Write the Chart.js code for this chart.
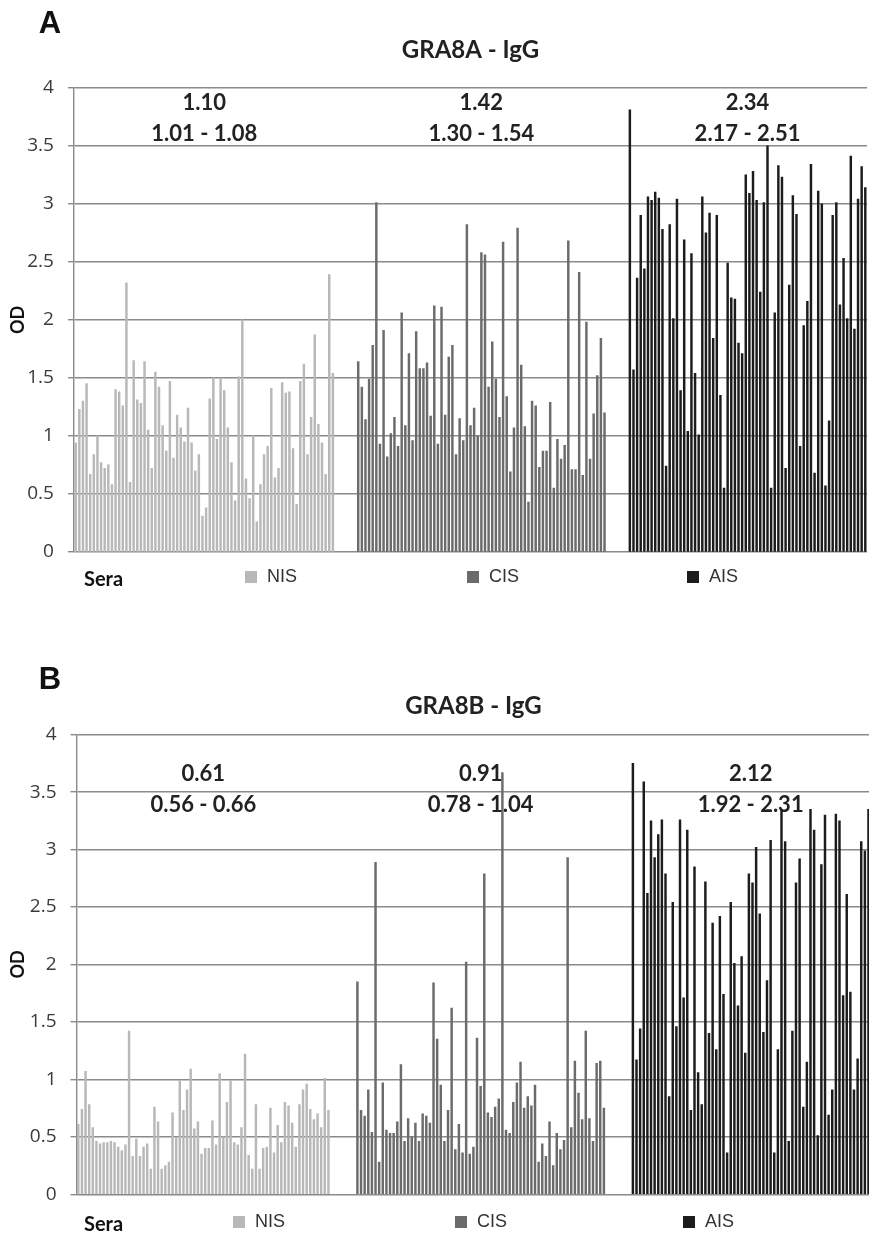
<!DOCTYPE html>
<html>
<head>
<meta charset="utf-8">
<script src="https://cdn.jsdelivr.net/npm/chart.js@4.4.1/dist/chart.umd.min.js"></script>
<style>
html,body{margin:0;padding:0;background:#fff;overflow:hidden;width:869px;height:1236px;}
canvas{display:block;}
</style>
</head>
<body>
<canvas id="chartA" width="871" height="618"></canvas>
<canvas id="chartB" width="871" height="618"></canvas>
<script>
// OD values per serum
let nisA=[0.94,1.23,1.30,1.45,0.67,0.84,1.00,0.77,0.72,0.75,0.58,1.40,1.38,1.26,2.32,0.60,1.65,1.31,1.28,1.64,
 1.05,0.72,1.55,1.42,1.09,0.87,1.47,0.81,1.18,1.07,0.95,1.24,0.94,0.70,0.84,0.31,0.38,1.32,1.50,0.97,
 1.50,1.39,1.07,0.77,0.44,1.51,2.00,0.63,0.46,1.00,0.26,0.58,0.84,0.91,1.41,0.64,0.72,1.46,1.37,1.38,
 0.89,0.41,1.47,1.62,0.84,1.16,1.87,1.10,0.94,0.67,2.39,1.54];
let cisA=[1.64,1.42,1.14,1.49,1.78,3.01,0.93,1.91,0.82,1.02,1.16,0.91,2.06,1.09,1.71,0.96,1.90,1.58,1.58,1.63,
 1.17,2.12,0.93,2.11,1.18,1.68,1.78,0.84,1.15,0.96,2.82,1.09,1.24,1.00,2.58,2.56,1.42,1.81,1.49,1.16,
 2.67,1.34,0.69,1.07,2.79,1.61,1.08,0.43,1.30,1.26,0.73,0.87,0.87,1.29,0.55,0.97,0.80,0.92,2.68,0.71,
 0.71,2.41,0.66,1.98,0.80,1.19,1.52,1.84,1.20];
let aisA=[3.81,1.57,2.36,2.90,2.44,3.06,3.03,3.10,3.05,2.78,0.74,2.82,2.01,3.04,1.39,2.69,1.04,2.57,1.54,1.01,
 3.06,2.75,2.92,1.84,2.90,1.35,0.55,2.49,2.19,2.18,1.80,1.71,3.25,3.09,3.28,3.03,2.24,3.01,3.50,0.55,
 2.06,3.33,3.23,0.72,2.30,3.07,2.91,0.91,1.95,2.16,3.34,0.68,3.11,3.00,0.57,1.13,2.90,3.01,2.13,2.53,
 2.01,3.41,1.92,3.04,3.32,3.14];

let nisB=[0.61,0.74,1.07,0.78,0.58,0.46,0.44,0.45,0.45,0.46,0.45,0.41,0.38,0.43,1.42,0.33,0.48,0.33,0.41,0.44,
 0.22,0.76,0.63,0.22,0.25,0.28,0.71,0.49,0.99,0.73,0.91,1.09,0.57,0.63,0.35,0.40,0.40,0.64,0.43,1.05,
 0.50,0.80,0.99,0.45,0.43,0.58,1.22,0.34,0.22,0.78,0.22,0.40,0.41,0.75,0.36,0.60,0.45,0.80,0.77,0.62,
 0.41,0.78,0.91,0.96,0.74,0.65,0.70,0.58,1.01,0.73];
let cisB=[1.85,0.73,0.68,0.91,0.54,2.89,0.28,0.97,0.56,0.53,0.53,0.63,1.13,0.46,0.66,0.50,0.62,0.46,0.70,0.68,
 0.62,1.84,1.35,0.95,0.46,0.73,1.62,0.39,0.61,0.36,2.02,0.35,0.41,1.36,0.94,2.79,0.71,0.67,0.76,0.83,
 3.67,0.56,0.53,0.80,0.97,1.15,0.75,0.85,0.77,0.95,0.28,0.44,0.33,0.63,0.25,0.53,0.39,0.47,2.93,0.58,
 1.16,0.88,0.65,1.42,0.66,0.46,1.14,1.16,0.75];
let aisB=[3.75,1.17,1.44,3.59,2.62,3.25,2.93,3.13,3.26,2.79,0.85,2.54,1.46,3.26,1.71,3.17,0.73,2.85,1.06,0.78,
 2.72,1.40,2.36,1.26,2.42,1.74,0.36,2.54,2.01,1.64,2.07,1.23,2.79,2.71,3.02,2.44,1.41,1.86,3.08,0.36,
 1.26,3.35,3.07,0.46,1.42,2.71,2.92,0.76,1.15,3.35,3.17,0.51,2.87,3.30,0.69,0.91,3.31,3.25,1.73,2.61,
 1.76,0.91,1.18,3.07,2.99,3.35];

// first slot of each group on the shared category axis (219 slots)
let slotCount=219;
let startsA=[0,78,153];
let startsB=[0,77,153];

let seraNames=["NIS","CIS","AIS"];
let seraColors=["#b8b8b8","#6b6b6b","#1c1c1c"];
let meansA=["1.10","1.42","2.34"], rangesA=["1.01 - 1.08","1.30 - 1.54","2.17 - 2.51"];
let meansB=["0.61","0.91","2.12"], rangesB=["0.56 - 0.66","0.78 - 1.04","1.92 - 2.31"];

function place(vals,start){
    let arr=new Array(slotCount).fill(null);
    vals.forEach((v,i)=>arr[start+i]=v);
    return arr;
}

// extra labels: panel letter, title, OD, group means, legend row
let extraText={
    id:"extraText",
    afterDraw(chart,args,o){
        let ctx=chart.ctx, ca=chart.chartArea, x=chart.scales.x;
        ctx.save();
        ctx.textAlign="center"; ctx.textBaseline="middle";
        ctx.fillStyle="#111";
        ctx.font="bold 31px 'Liberation Sans'";
        ctx.fillText(o.letter,50,o.letterY);
        ctx.fillStyle="#222";
        ctx.font="bold 24px Lato";
        ctx.fillText(o.title,(ca.left+ca.right)/2,o.titleY);
        ctx.font="bold 22px Lato";
        o.starts.forEach((s,i)=>{
            let n=o.lens[i];
            let cx=(x.getPixelForValue(s)+x.getPixelForValue(s+n-1))/2;
            ctx.fillText(o.means[i],cx,o.meanY);
            ctx.fillText(o.ranges[i],cx,o.meanY+31);
        });
        ctx.save();
        ctx.translate(18,(ca.top+ca.bottom)/2);
        ctx.rotate(-Math.PI/2);
        ctx.font="bold 18px Lato";
        ctx.fillStyle="#111";
        ctx.fillText("OD",0,0);
        ctx.restore();
        // legend row
        ctx.textAlign="left";
        ctx.font="bold 20px Lato";
        ctx.fillStyle="#111";
        ctx.fillText("Sera",o.seraX,o.legendY+3);
        ctx.font="18px 'Liberation Sans'";
        seraNames.forEach((nm,i)=>{
            ctx.fillStyle=seraColors[i];
            ctx.fillRect(o.legendX[i],o.legendY-6,12,12);
            ctx.fillStyle="#333";
            ctx.fillText(nm,o.legendX[i]+22,o.legendY);
        });
        ctx.restore();
    }
};

function makePanel(id,groups,starts,opt){
    let labels=[];
    for(let i=0;i<slotCount;i++) labels.push(String(i+1));
    let datasets=groups.map((g,i)=>({
        label:seraNames[i],
        data:place(g,starts[i]),
        backgroundColor:seraColors[i],
        borderWidth:0,
        barThickness:1.8,
        grouped:false
    }));
    return new Chart(document.getElementById(id),{
        type:"bar",
        data:{labels:labels,datasets:datasets},
        options:{
            responsive:false,animation:false,
            layout:{padding:opt.pad},
            plugins:{legend:{display:false},tooltip:{enabled:false},
                extraText:Object.assign({starts:starts,lens:groups.map(g=>g.length)},opt.text)},
            scales:{
                x:{display:false},
                y:{
                    min:0,max:4,
                    afterFit:s=>{s.width=opt.axisW;},
                    ticks:{stepSize:0.5,padding:14,color:"#3a3a3a",font:{family:"'Open Sans'",size:19},
                        callback:v=>String(Number(v.toFixed(1)))},
                    grid:{color:"#8a8a8a",lineWidth:1.4,tickLength:6},
                    border:{color:"#8a8a8a",width:1.4}
                }
            }
        },
        plugins:[extraText]
    });
}

makePanel("chartA",[nisA,cisA,aisA],startsA,{
    axisW:73.9,
    pad:{top:87.7,bottom:66,left:0,right:3.9},
    text:{letter:"A",letterY:24,title:"GRA8A - IgG",titleY:50,means:meansA,ranges:rangesA,meanY:103,
        seraX:84,legendY:577,legendX:[245,467,687]}
});
makePanel("chartB",[nisB,cisB,aisB],startsB,{
    axisW:76.5,
    pad:{top:116.7,bottom:41.7,left:0,right:0.7},
    text:{letter:"B",letterY:62,title:"GRA8B - IgG",titleY:88,means:meansB,ranges:rangesB,meanY:156,
        seraX:84,legendY:604,legendX:[233,455,683]}
});
</script>
</body>
</html>
